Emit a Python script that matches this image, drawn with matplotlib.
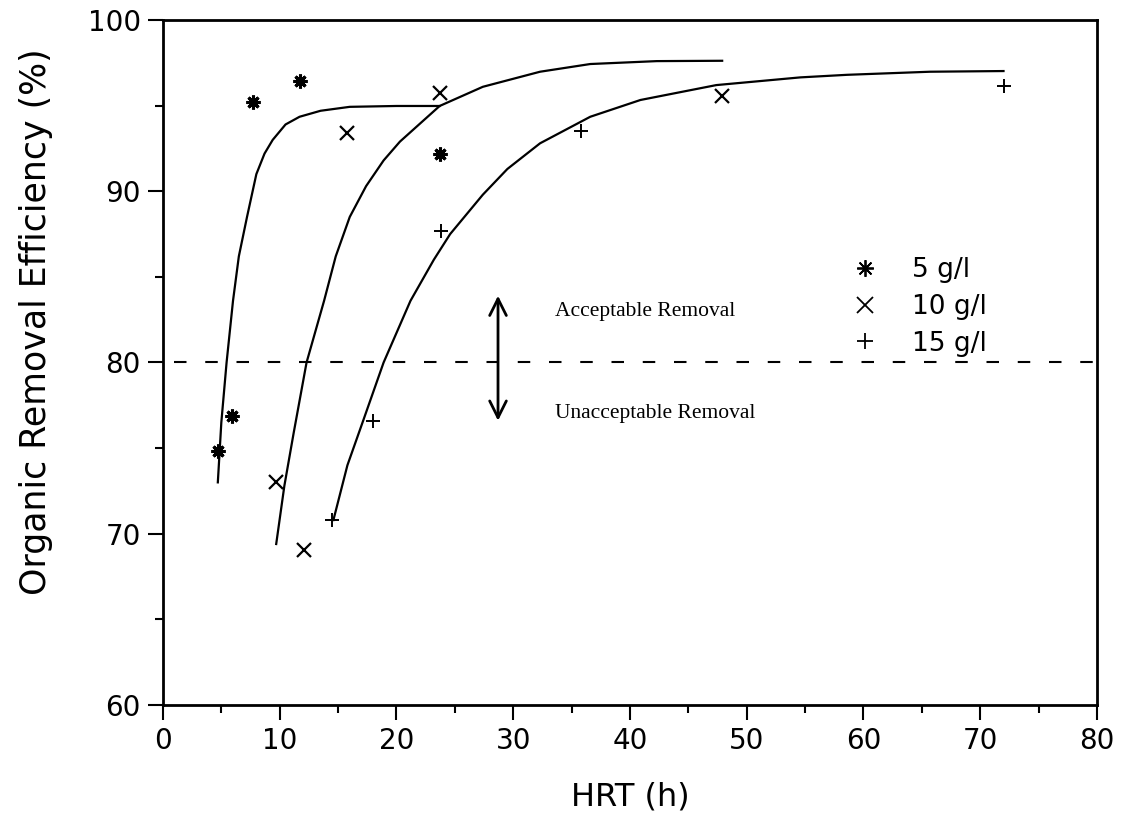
import matplotlib
matplotlib.use('Agg')
import matplotlib.pyplot as plt
from matplotlib.ticker import MultipleLocator

# Constants
OUT_FILE = 'out.png'
SANS = ['DejaVu Sans']
SERIF = ['Liberation Serif', 'DejaVu Serif']

# measured points (HRT in h, removal efficiency in %)
hrt_5 = [4.7, 5.9, 7.7, 11.7, 23.7]
eff_5 = [74.85, 76.9, 95.2, 96.45, 92.2]
hrt_10 = [9.65, 12.1, 15.8, 23.7, 47.85]
eff_10 = [73.0, 69.05, 93.4, 95.75, 95.55]
hrt_15 = [14.5, 18.0, 23.8, 35.8, 72.0]
eff_15 = [70.8, 76.6, 87.65, 93.5, 96.15]

# fitted curves
fit_5_x = [4.7, 5.0, 5.45, 6.0, 6.5, 7.2, 8.0, 8.7, 9.4, 10.5, 11.7, 13.5, 16.0, 20.0, 23.7]
fit_5_y = [73.0, 76.5, 80.0, 83.6, 86.2, 88.5, 91.0, 92.2, 93.0, 93.9, 94.35, 94.7, 94.93, 94.98, 94.98]
fit_10_x = [9.7, 10.4, 11.2, 12.3, 13.8, 14.8, 16.0, 17.4, 18.9, 20.3, 23.7, 27.4, 32.3, 36.6, 42.3, 47.9]
fit_10_y = [69.4, 72.8, 75.9, 80.0, 83.6, 86.2, 88.5, 90.3, 91.8, 92.9, 94.98, 96.1, 96.98, 97.43, 97.6, 97.62]
fit_15_x = [14.6, 15.8, 17.2, 18.9, 21.2, 23.2, 24.6, 27.4, 29.5, 32.3, 36.6, 40.9, 47.4, 54.6, 58.6, 65.7, 72.0]
fit_15_y = [70.8, 74.0, 76.7, 80.0, 83.6, 86.0, 87.5, 89.8, 91.3, 92.8, 94.35, 95.33, 96.2, 96.65, 96.8, 96.98, 97.02]

series_labels = ['5 g/l', '10 g/l', '15 g/l']
THRESHOLD = 80
ARROW_X = 28.7
ARROW_LOW, ARROW_HIGH = 76.6, 83.9
TEXT_X = 33.6
TEXT_UP_Y, TEXT_DOWN_Y = 82.95, 77.0

x_ticks = list(range(0, 81, 10))
y_ticks = list(range(60, 101, 10))


def plot():
    fig = plt.figure(figsize=(11.34, 8.34), dpi=100)
    ax = fig.add_axes([0.1437, 0.1547, 0.8236, 0.8213])

    # fitted curves
    for fx, fy in [(fit_5_x, fit_5_y), (fit_10_x, fit_10_y), (fit_15_x, fit_15_y)]:
        ax.plot(fx, fy, color='black', lw=1.6)

    # measured data
    h1, = ax.plot(hrt_5, eff_5, ls='none', marker=(8, 2, 0), ms=10, mew=2.2, color='black')
    h2, = ax.plot(hrt_10, eff_10, ls='none', marker='x', ms=10, mew=1.6, color='black')
    h3, = ax.plot(hrt_15, eff_15, ls='none', marker='+', ms=10, mew=1.4, color='black')

    # threshold line and annotation
    ax.axhline(THRESHOLD, xmin=0.012, xmax=1, color='black', lw=1.5, dashes=(6, 9))
    ax.annotate('', xy=(ARROW_X, ARROW_HIGH), xytext=(ARROW_X, ARROW_LOW),
                arrowprops=dict(arrowstyle='<->', lw=2, color='black', mutation_scale=30,
                                shrinkA=0, shrinkB=0))
    ax.text(TEXT_X, TEXT_UP_Y, 'Acceptable Removal', family=SERIF, fontsize=15.5,
            ha='left', va='center')
    ax.text(TEXT_X, TEXT_DOWN_Y, 'Unacceptable Removal', family=SERIF, fontsize=15.5,
            ha='left', va='center')

    leg = ax.legend([h1, h2, h3], series_labels, loc='upper left',
                    bbox_to_anchor=(0.712, 0.688), frameon=False,
                    prop={'family': SANS, 'size': 19}, handlelength=1.0,
                    handletextpad=1.3, labelspacing=0.4, markerscale=1.2)
    for lh in leg.legend_handles:
        lh.set_markeredgewidth(1.3)

    ax.set_xlim(0, 80)
    ax.set_ylim(60, 100)
    ax.set_xticks(x_ticks)
    ax.set_yticks(y_ticks)
    ax.xaxis.set_minor_locator(MultipleLocator(5))
    ax.yaxis.set_minor_locator(MultipleLocator(5))
    ax.tick_params(which='major', direction='out', length=11, width=1.5, pad=5,
                   labelsize=20, top=False, right=False)
    ax.tick_params(which='minor', direction='out', length=6, width=1.5,
                   top=False, right=False)
    for lbl in ax.get_xticklabels() + ax.get_yticklabels():
        lbl.set_family(SANS)

    for sp in ax.spines.values():
        sp.set_linewidth(2)

    xl = ax.set_xlabel('HRT (h)', family=SANS, fontsize=23)
    xl.set_va('center')
    ax.xaxis.set_label_coords(0.5, -0.134)
    yl = ax.set_ylabel('Organic Removal Efficiency (%)', family=SANS, fontsize=25)
    yl.set_va('center')
    ax.yaxis.set_label_coords(-0.136, 0.56)

    fig.savefig(OUT_FILE, dpi=100)


def main():
    plot()


if __name__ == "__main__":
    main()
